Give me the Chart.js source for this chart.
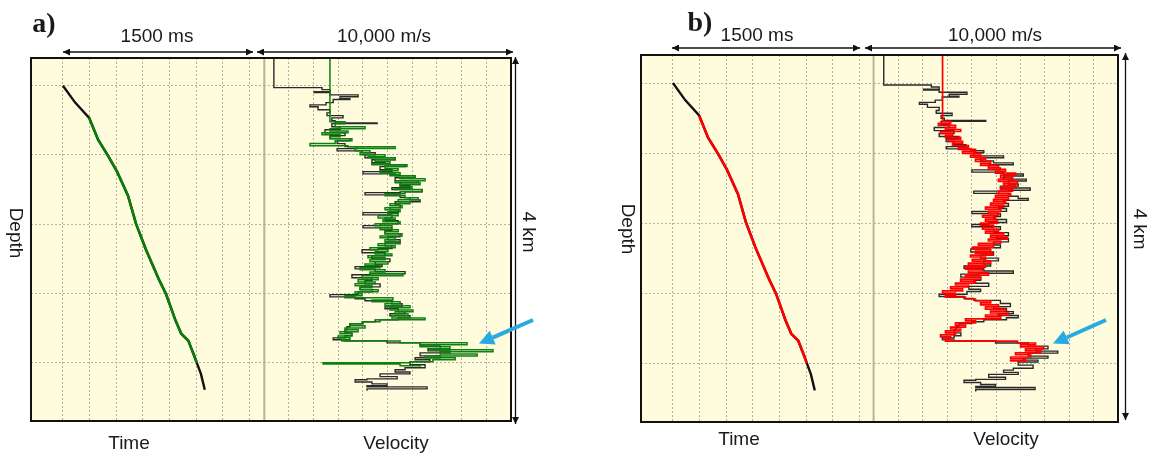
<!DOCTYPE html>
<html>
<head>
<meta charset="utf-8">
<script src="https://cdn.jsdelivr.net/npm/chart.js@4.4.1/dist/chart.umd.min.js"></script>
<style>
  body { margin: 0; width: 1150px; height: 454px; background: #fff; position: relative; overflow: hidden;
         font-family: "Liberation Sans", Arial, sans-serif; color: #1a1a1a; }
  canvas { position: absolute; background: #fefcdc; }
  .lbl { position: absolute; font-size: 19px; white-space: nowrap; transform: translate(-50%, -50%); }
  .rot { transform: translate(-50%, -50%) rotate(90deg); }
  .tag { position: absolute; font-family: "Liberation Serif", "Times New Roman", serif; font-weight: bold;
         font-size: 28px; transform: translate(-50%, -50%); }
  svg { position: absolute; left: 0; top: 0; }
</style>
</head>
<body>
<canvas id="timeA" width="233" height="363" style="left:31px;top:58px"></canvas>
<canvas id="velA" width="247" height="363" style="left:264px;top:58px"></canvas>
<canvas id="timeB" width="233" height="367" style="left:641px;top:55px"></canvas>
<canvas id="velB" width="244" height="367" style="left:874px;top:55px"></canvas>

<svg width="1150" height="454">
  <defs>
    <marker id="ah" viewBox="0 0 10 10" refX="10" refY="5" markerWidth="9" markerHeight="7"
            markerUnits="userSpaceOnUse" orient="auto-start-reverse">
      <path d="M0,0 L10,5 L0,10 z" fill="#111"/>
    </marker>
    <marker id="bh" viewBox="0 0 10 10" refX="0" refY="5" markerWidth="16" markerHeight="15"
            markerUnits="userSpaceOnUse" orient="auto">
      <path d="M0,0 L10,5 L0,10 z" fill="#29abe2"/>
    </marker>
  </defs>
  <!-- panel a -->
  <rect x="31" y="58" width="480" height="363" fill="none" stroke="#111" stroke-width="2"/>
  <line x1="264.3" y1="59" x2="264.3" y2="420" stroke="#b9b29c" stroke-width="2"/>
  <line x1="63" y1="52" x2="253" y2="52" stroke="#111" stroke-width="1.3" marker-start="url(#ah)" marker-end="url(#ah)"/>
  <line x1="257" y1="52" x2="513" y2="52" stroke="#111" stroke-width="1.3" marker-start="url(#ah)" marker-end="url(#ah)"/>
  <line x1="515.5" y1="57" x2="515.5" y2="424" stroke="#111" stroke-width="1.3" marker-start="url(#ah)" marker-end="url(#ah)"/>
  <line x1="533" y1="320" x2="492.7" y2="337.6" stroke="#29abe2" stroke-width="4" marker-end="url(#bh)"/>
  <!-- panel b -->
  <rect x="641" y="55" width="477" height="367" fill="none" stroke="#111" stroke-width="2"/>
  <line x1="873.6" y1="56" x2="873.6" y2="421" stroke="#b9b29c" stroke-width="2"/>
  <line x1="672" y1="48" x2="860" y2="48" stroke="#111" stroke-width="1.3" marker-start="url(#ah)" marker-end="url(#ah)"/>
  <line x1="865" y1="48" x2="1121" y2="48" stroke="#111" stroke-width="1.3" marker-start="url(#ah)" marker-end="url(#ah)"/>
  <line x1="1125.5" y1="53" x2="1125.5" y2="420" stroke="#111" stroke-width="1.3" marker-start="url(#ah)" marker-end="url(#ah)"/>
  <line x1="1106" y1="320" x2="1066.7" y2="337.5" stroke="#29abe2" stroke-width="4" marker-end="url(#bh)"/>
</svg>

<div class="tag" style="left:44px;top:23px">a)</div>
<div class="lbl" style="left:157px;top:36px">1500 ms</div>
<div class="lbl" style="left:384px;top:36px">10,000 m/s</div>
<div class="lbl rot" style="left:16px;top:233px">Depth</div>
<div class="lbl rot" style="left:529px;top:232px">4 km</div>
<div class="lbl" style="left:129px;top:443px">Time</div>
<div class="lbl" style="left:396px;top:443px">Velocity</div>

<div class="tag" style="left:700px;top:22px">b)</div>
<div class="lbl" style="left:757px;top:35px">1500 ms</div>
<div class="lbl" style="left:995px;top:35px">10,000 m/s</div>
<div class="lbl rot" style="left:628px;top:229px">Depth</div>
<div class="lbl rot" style="left:1140px;top:229px">4 km</div>
<div class="lbl" style="left:739px;top:439px">Time</div>
<div class="lbl" style="left:1006px;top:439px">Velocity</div>

<script>
// axes (depth in ft, time in ms, velocity in m/s)
const depthMin = 1500, depthMax = 14600;
const depthTicks = [2500, 5000, 7500, 10000, 12500];
const timeMin = -300, timeMax = 1888;
const timeTicks = [0, 250, 500, 750, 1000, 1250, 1500, 1750];
const velMin = 0, velMax = 10000;
const velTicks = [1000, 2000, 3000, 4000, 5000, 6000, 7000, 8000, 9000];

// time-depth curve
const tdDepth = [2500, 3110, 3660, 4450, 5030, 5600, 6470, 7480, 8420, 9500, 10010, 10950, 11450, 11700, 12210, 12500, 12890, 13470];
const tdTime  = [0, 115, 246, 330, 424, 508, 611, 686, 780, 902, 967, 1055, 1111, 1177, 1229, 1257, 1295, 1332];
const calibFrom = 2, calibTo = 15;

// sonic log (black)
const sonicDepth = [1500, 2570, 2640, 2720, 2750, 2830, 2900, 2970, 3000, 3110, 3190, 3260, 3370, 3480, 3580, 3660, 3760, 3840, 3870, 3980,
  4090, 4200, 4300, 4410, 4490, 4590, 4700, 4770, 4850, 4920, 4990, 5100, 5170, 5280, 5350, 5420, 5530, 5600, 5680, 5750,
  5820, 5930, 6000, 6110, 6180, 6250, 6330, 6360, 6440, 6540, 6620, 6690, 6800, 6900, 6980, 7080, 7160, 7270, 7370, 7480,
  7550, 7630, 7730, 7840, 7950, 8060, 8170, 8280, 8380, 8420, 8530, 8640, 8750, 8850, 8960, 9030, 9110, 9210, 9290, 9320,
  9430, 9540, 9650, 9760, 9860, 9940, 10040, 10120, 10190, 10260, 10370, 10480, 10550, 10660, 10730, 10800, 10880, 10950, 11020, 11090,
  11200, 11310, 11420, 11520, 11600, 11670, 11710, 11780, 11890, 11990, 12070, 12140, 12250, 12320, 12390, 12460, 12570, 12680, 12750, 12830,
  12900, 13000, 13080, 13110, 13190, 13260, 13330, 13370, 13440, 13510];
const sonicVel = [400, 2350, 2670, 2030, 2670, 3810, 3080, 3480, 2800, 2510, 1860, 2190, 2670, 2550, 3200, 2750, 2880, 4580, 2750, 3080,
  2470, 3280, 2670, 3480, 2960, 3280, 3770, 2960, 3970, 4500, 4090, 5310, 4370, 4900, 5710, 4700, 5180, 4010, 5310, 6120,
  5310, 6240, 5510, 5910, 5180, 6400, 5510, 4090, 5510, 5910, 6320, 5310, 5510, 5100, 5430, 4010, 5180, 4900, 5430, 4700,
  4010, 5180, 4900, 5510, 5020, 5510, 4900, 5180, 4620, 3970, 4900, 4370, 5100, 4500, 4780, 3690, 4500, 5710, 4290, 3560,
  4370, 4090, 4700, 3890, 4370, 3810, 2670, 3690, 4090, 5180, 5590, 4900, 5430, 5710, 5100, 5910, 5430, 4500, 4010, 3480,
  3360, 3280, 3560, 3280, 2800, 3280, 4980, 6320, 7130, 6640, 7530, 6320, 7130, 6120, 6720, 5910, 6520, 5710, 5310, 5910,
  4700, 5390, 4170, 3690, 4370, 4980, 4170, 6600, 4170, 4170];

// calibrated log, panel a (green)
const greenDepth = [1500, 3730, 3800, 3870, 3980, 4050, 4130, 4200, 4270, 4340, 4410, 4490, 4590, 4670, 4700, 4770, 4850, 4920, 4990, 5060,
  5100, 5170, 5240, 5320, 5350, 5420, 5500, 5570, 5640, 5710, 5750, 5820, 5860, 5930, 6000, 6070, 6150, 6220, 6250, 6330,
  6400, 6470, 6540, 6620, 6690, 6760, 6830, 6900, 6980, 7050, 7120, 7190, 7270, 7340, 7410, 7480, 7550, 7630, 7700, 7770,
  7840, 7920, 7990, 8060, 8130, 8200, 8280, 8350, 8420, 8490, 8570, 8640, 8710, 8780, 8850, 8930, 9000, 9070, 9140, 9220,
  9290, 9360, 9430, 9500, 9580, 9650, 9720, 9790, 9860, 9940, 10010, 10080, 10150, 10230, 10300, 10370, 10440, 10510, 10590, 10660,
  10730, 10800, 10880, 10950, 11020, 11090, 11160, 11240, 11310, 11380, 11450, 11530, 11600, 11670, 11710, 11780, 11850, 11920, 11990, 12030,
  12100, 12180, 12250, 12320, 12390, 12460, 12500, 12540, 12610, 12640];
const greenVel = [2670, 2670, 3280, 2880, 4090, 2670, 3400, 2350, 3080, 2670, 3560, 2880, 1860, 3400, 5310, 3690, 4290, 3890, 4900, 4210,
  5310, 4500, 5100, 4370, 5790, 4900, 5430, 4700, 5510, 5100, 6120, 5510, 6520, 5310, 6320, 5510, 5990, 5310, 6400, 5710,
  4900, 5710, 6240, 5430, 5910, 5100, 5590, 4900, 5510, 5020, 5430, 4620, 5310, 4820, 5510, 4500, 5180, 4700, 5430, 4900,
  5590, 4700, 5310, 4900, 5510, 4620, 5310, 4290, 5020, 4500, 5180, 4210, 4900, 4290, 5020, 4090, 4700, 3890, 4900, 4290,
  5630, 3970, 4620, 3810, 4500, 3690, 4370, 3890, 4620, 3690, 3970, 3280, 5220, 4370, 5510, 4900, 5910, 5100, 6030, 5310,
  5830, 5180, 6520, 4700, 3970, 3480, 4090, 3280, 3810, 3080, 3560, 3000, 3480, 3160, 5510, 8220, 6320, 7530, 6720, 9270,
  7130, 8630, 6520, 7740, 6840, 5910, 2390, 5510, 6320, 6320];

// calibrated log, panel b (red)
const redDepth = [1500, 3800, 3870, 3940, 4010, 4090, 4160, 4230, 4300, 4370, 4440, 4510, 4580, 4650, 4730, 4800, 4870, 4940, 5010, 5080,
  5150, 5220, 5300, 5370, 5440, 5510, 5580, 5650, 5720, 5790, 5870, 5940, 6010, 6080, 6150, 6220, 6290, 6360, 6440, 6510,
  6580, 6650, 6720, 6790, 6860, 6930, 7000, 7080, 7150, 7220, 7290, 7360, 7430, 7500, 7570, 7650, 7720, 7790, 7860, 7930,
  8000, 8070, 8140, 8220, 8290, 8360, 8430, 8500, 8570, 8640, 8710, 8790, 8860, 8930, 9000, 9070, 9140, 9210, 9280, 9360,
  9430, 9500, 9570, 9640, 9710, 9780, 9850, 9920, 10000, 10070, 10140, 10210, 10280, 10350, 10420, 10490, 10570, 10640, 10710, 10780,
  10850, 10920, 10990, 11060, 11140, 11210, 11280, 11350, 11420, 11490, 11560, 11630, 11710, 11780, 11850, 11920, 11990, 12060, 12130, 12200,
  12280, 12350, 12420, 12450];
const redVel = [2810, 2810, 3140, 2640, 3340, 2930, 3550, 2730, 3220, 2930, 3550, 3050, 3630, 3220, 3870, 3460, 4160, 3630, 4370, 3960,
  4570, 4160, 4780, 4370, 5100, 4690, 5390, 4980, 5800, 5190, 5680, 5100, 5880, 5310, 5800, 5190, 5680, 5100, 5600, 4980,
  5510, 4900, 5390, 4780, 5310, 4570, 5190, 4690, 5100, 4450, 4980, 4570, 5060, 4370, 4900, 4450, 5100, 4570, 5310, 4780,
  5470, 4690, 5190, 4280, 4900, 4040, 4780, 4160, 4860, 3960, 4570, 4040, 4780, 3870, 4570, 3750, 4450, 3870, 4690, 3750,
  4370, 3550, 4160, 3340, 3870, 3140, 3630, 2810, 3340, 2930, 3750, 4160, 4780, 4370, 5100, 4570, 5390, 4780, 5510, 4570,
  5190, 3750, 4160, 3340, 3750, 3140, 3550, 2930, 3340, 2730, 3140, 2930, 5880, 6620, 6010, 6950, 6210, 6830, 5800, 6420,
  5600, 6210, 5600, 5600];

const gridColor = '#b3b0a0';

function pts(xs, ys) {
  return xs.map((x, i) => ({ x: x, y: ys[i] }));
}

function curve(xs, ys, color, width, stepped, order) {
  return {
    data: pts(xs, ys), showLine: true, borderColor: color, borderWidth: width,
    pointRadius: 0, stepped: stepped, order: order, fill: false, tension: 0
  };
}

function axis(min, max, tickList, reverse) {
  return {
    type: 'linear', min: min, max: max, reverse: reverse,
    afterBuildTicks: s => { s.ticks = tickList.map(v => ({ value: v })); },
    ticks: { display: false },
    grid: { drawTicks: false, color: gridColor, lineWidth: 1 },
    border: { display: false, dash: [2, 2] }
  };
}

function track(id, xMin, xMax, xTicks, datasets) {
  new Chart(document.getElementById(id), {
    type: 'scatter',
    data: { datasets: datasets },
    options: {
      responsive: false, animation: false, events: [],
      layout: { padding: 0 },
      plugins: { legend: { display: false }, tooltip: { enabled: false } },
      scales: {
        x: axis(xMin, xMax, xTicks, false),
        y: axis(depthMin, depthMax, depthTicks, true)
      }
    }
  });
}

const calibTime = tdTime.slice(calibFrom, calibTo + 1);
const calibDepth = tdDepth.slice(calibFrom, calibTo + 1);

// panel a
track('timeA', timeMin, timeMax, timeTicks, [
  curve(calibTime, calibDepth, '#0b7d0b', 2.6, false, 0),
  curve(tdTime, tdDepth, '#111111', 2.4, false, 1)
]);
track('velA', velMin, velMax, velTicks, [
  curve(greenVel, greenDepth, '#0d800f', 1.5, 'after', 0),
  curve(sonicVel, sonicDepth, '#2a2a2a', 1.4, 'after', 1)
]);

// panel b
track('timeB', timeMin, timeMax, timeTicks, [
  curve(calibTime, calibDepth, '#ff0000', 2.6, false, 0),
  curve(tdTime, tdDepth, '#111111', 2.4, false, 1)
]);
track('velB', velMin, velMax, velTicks, [
  curve(redVel, redDepth, '#ff0000', 1.7, 'after', 0),
  curve(sonicVel, sonicDepth, '#2a2a2a', 1.4, 'after', 1)
]);
</script>
</body>
</html>
